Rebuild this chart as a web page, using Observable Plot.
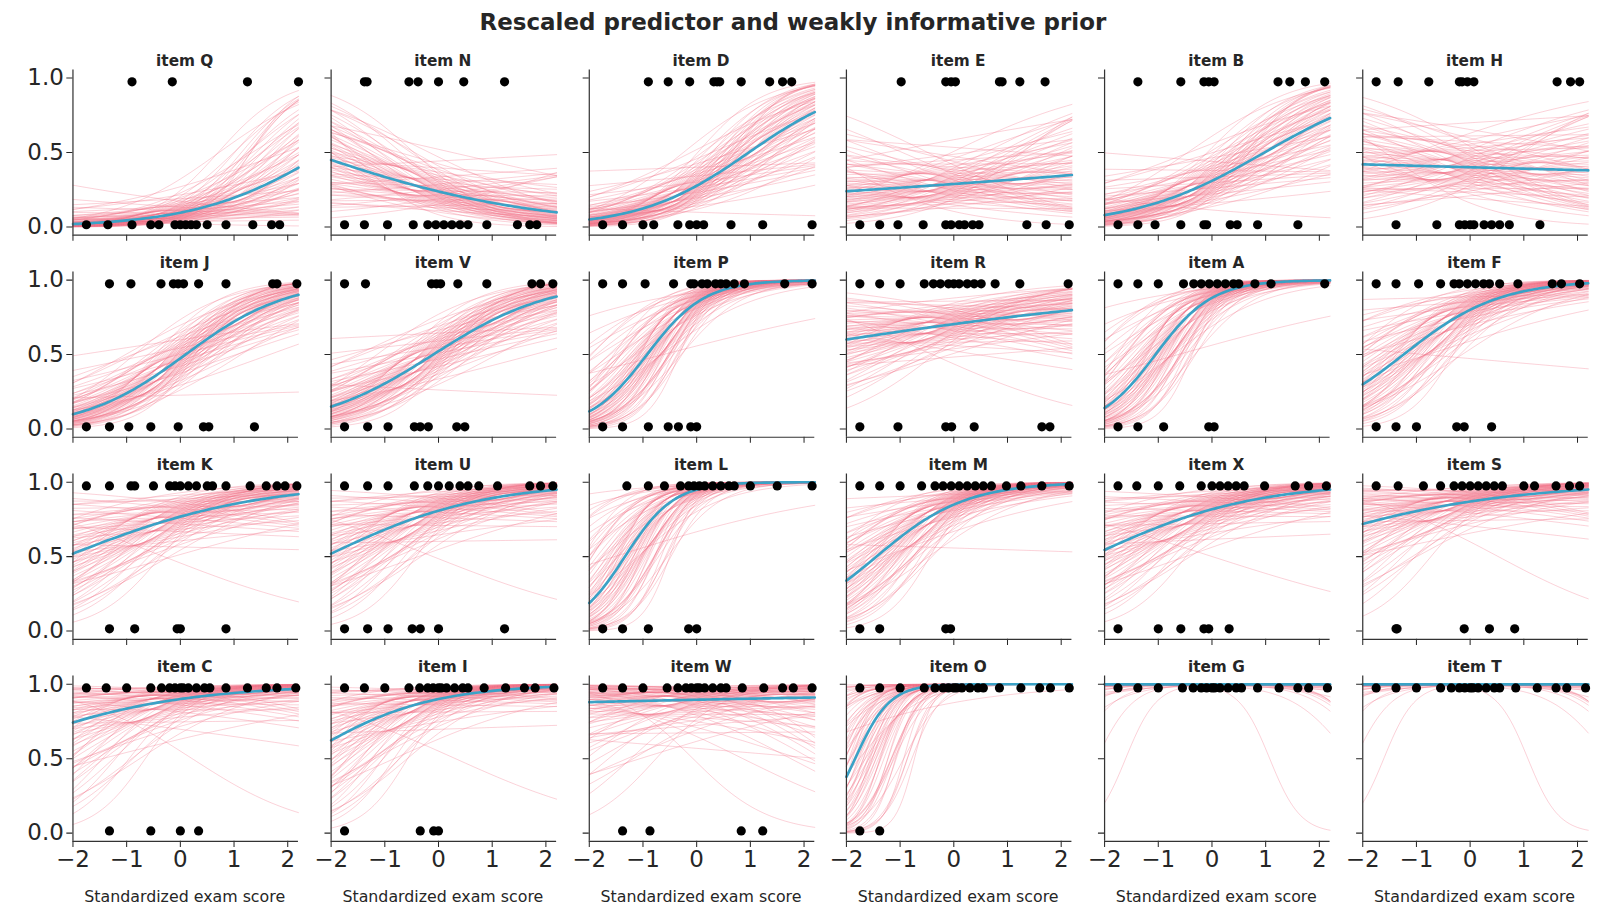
<!DOCTYPE html>
<html><head><meta charset="utf-8">
<script src="https://cdn.jsdelivr.net/npm/d3@7"></script>
<script src="https://cdn.jsdelivr.net/npm/@observablehq/plot@0.6"></script>
<style>
html,body{margin:0;background:#fff;font-family:"DejaVu Sans",sans-serif;overflow:hidden;width:1600px;height:921px;}
#outer{width:1600px;height:921px;overflow:hidden;position:relative;}
#wrap{position:absolute;left:0;top:0;width:1568px;height:902px;transform:scale(1.0204);transform-origin:0 0;}
.t{position:absolute;font-weight:bold;color:#262626;white-space:nowrap;text-align:center;width:240px;}
.xl{position:absolute;font-size:15.5px;color:#262626;white-space:nowrap;text-align:center;width:240px;}
.p{position:absolute;}
</style></head><body>
<div id="outer"><div id="wrap"></div></div>
<script>
const items = ["Q","N","D","E","B","H","J","V","P","R","A","F","K","U","L","M","X","S","C","I","W","O","G","T"];
// mean logistic curve: intercept (logit at x=0) and slope
const intercepts = [-2.24,-1.16,-0.96,-0.9,-0.8,-0.4,-0.1,0.09,1.73,0.87,2.0,1.39,1.2,1.44,2.94,1.73,1.5,1.9,2.2,2.2,2.15,5.7,7,7];
const slopes = [0.83,-0.48,0.99,0.126,0.82,-0.04,1.05,0.91,1.87,0.23,1.9,1.12,0.56,0.68,2.2,1.2,0.66,0.48,0.57,0.85,0.08,3.1,0,0];
// posterior spread (sd of intercept, sd of slope)
const sdIntercept = [0.6,0.5,0.5,0.5,0.5,0.5,0.45,0.45,0.6,0.45,0.7,0.6,0.55,0.6,0.9,0.6,0.6,0.6,0.8,0.8,0.9,1.5,1.3,1.3];
const sdSlope = [0.55,0.4,0.45,0.4,0.45,0.4,0.4,0.4,0.6,0.35,0.6,0.5,0.45,0.5,0.7,0.5,0.45,0.5,0.6,0.6,0.6,1.0,1.4,1.4];
const DENSE = [-1.75,-1.38,-1,-0.55,-0.35,-0.2,-0.1,0,0.05,0.15,0.3,0.45,0.55,0.85,1.25,1.6,1.8,2.15];
const ones = [
 [-0.9,-0.15,1.25,2.2],
 [-1.38,-1.33,-0.55,-0.38,0.0,0.47,1.23],
 [-0.9,-0.53,-0.13,0.32,0.38,0.43,0.83,1.36,1.6,1.77],
 [-0.98,-0.15,-0.05,0.03,0.85,0.9,1.23,1.7],
 [-1.38,-0.58,-0.15,-0.06,0.04,1.23,1.45,1.74,2.1],
 [-1.75,-1.34,-0.77,-0.2,-0.15,-0.05,0.07,1.62,1.87,2.04],
 [-1.32,-0.92,-0.36,-0.13,-0.04,0.06,0.34,0.85,1.72,1.8,2.17],
 [-1.75,-1.36,-0.13,-0.04,0.04,0.36,0.9,1.74,1.9,2.13],
 [-1.75,-1.38,-0.96,-0.43,-0.11,-0.05,0.1,0.2,0.35,0.45,0.55,0.7,0.89,1.64,2.15],
 [-1.75,-1.38,-1,-0.55,-0.38,-0.25,-0.1,0,0.1,0.25,0.38,0.51,0.77,1.23,2.13],
 [-1.75,-1.38,-1,-0.53,-0.34,-0.2,-0.05,0.1,0.25,0.4,0.5,0.8,1.1,2.1],
 [-1.75,-1.38,-0.96,-0.55,-0.3,-0.2,-0.05,0.1,0.25,0.36,0.55,0.89,1.53,1.7,2.04],
 [-1.75,-1.32,-0.92,-0.85,-0.5,-0.2,-0.1,0,0.15,0.3,0.5,0.6,0.85,1.3,1.6,1.8,1.95,2.17],
 [-1.75,-1.32,-0.94,-0.45,-0.2,0,0.2,0.4,0.55,0.75,1.1,1.7,1.9,2.13],
 [-1.3,-0.9,-0.6,-0.3,-0.15,-0.05,0.05,0.15,0.3,0.45,0.6,0.7,1.0,1.5,2.15],
 [-1.75,-1.38,-1,-0.6,-0.35,-0.2,-0.05,0.1,0.25,0.4,0.55,0.7,0.98,1.25,1.64,2.15],
 [-1.75,-1.4,-1,-0.6,-0.2,0,0.15,0.3,0.45,0.6,0.98,1.55,1.8,2.13],
 [-1.75,-1.34,-0.87,-0.55,-0.3,-0.15,0,0.15,0.3,0.45,0.6,1.0,1.2,1.6,1.85,2.04],
 DENSE, DENSE, DENSE, DENSE, DENSE, DENSE
];
const zeros = [
 [-1.75,-1.35,-0.9,-0.55,-0.4,-0.1,0,0.1,0.2,0.3,0.5,0.85,1.35,1.7,1.85],
 [-1.75,-1.38,-0.95,-0.47,-0.2,-0.05,0.1,0.25,0.4,0.55,0.9,1.47,1.7,1.83],
 [-1.75,-1.38,-1,-0.8,-0.35,-0.13,0,0.13,0.64,1.23,2.15],
 [-1.75,-1.38,-1.04,-0.57,-0.15,-0.05,0.1,0.2,0.35,0.47,1.36,1.72,2.15],
 [-1.75,-1.38,-1.06,-0.58,-0.15,-0.1,0.34,0.47,0.85,1.6],
 [-1.38,-0.62,-0.2,-0.1,0,0.07,0.26,0.4,0.55,0.73,1.3],
 [-1.75,-1.32,-0.96,-0.55,-0.04,0.43,0.53,1.38],
 [-1.75,-1.32,-0.94,-0.45,-0.34,-0.19,0.34,0.49],
 [-1.75,-1.38,-0.9,-0.53,-0.34,-0.11,0],
 [-1.75,-1.04,-0.15,-0.04,0.38,1.64,1.79],
 [-1.75,-1.38,-0.9,-0.06,0.04],
 [-1.75,-1.38,-1,-0.25,-0.11,0.4],
 [-1.32,-0.85,-0.06,0,0.85],
 [-1.75,-1.32,-0.94,-0.49,-0.34,0,1.23],
 [-1.75,-1.38,-0.9,-0.15,0],
 [-1.75,-1.38,-0.15,-0.06],
 [-1.75,-1,-0.58,-0.15,-0.06,0.32],
 [-1.38,-1.36,-0.11,0.36,0.83],
 [-1.32,-0.55,0,0.34],
 [-1.75,-0.34,-0.09,0],
 [-1.38,-0.87,0.83,1.23],
 [-1.75,-1.38],
 [], []
];
const xTicks = [-2,-1,0,1,2];
const yTicks = [0,0.5,1];
const colStarts = [71,324,577,829,1082,1335];
const rowTops = [68,266,464,662];

// deterministic normal quantiles for posterior draws
function erfinv(x){const a=0.147,l=Math.log(1-x*x),t=2/(Math.PI*a)+l/2;return Math.sign(x)*Math.sqrt(Math.sqrt(t*t-l/a)-t);}
const probit = p => Math.SQRT2*erfinv(2*p-1);
const N = 80;
const draws = d3.range(N).map(i=>[probit((i+0.5)/N), probit(((i*29)%N+0.5)/N)]);
const xs = d3.range(-2,2.201,0.05);
const sig = v => 1/(1+Math.exp(-v));
const fmtX = d => (d<0?"\u2212":"")+Math.abs(d);

const wrap = document.getElementById("wrap");
const title = document.createElement("div");
title.className="t"; title.style.left="470px"; title.style.width="600px"; title.style.top="8px"; title.style.fontSize="22.5px";
title.textContent="Rescaled predictor and weakly informative prior";
wrap.appendChild(title);

items.forEach((it,k)=>{
  const c=k%6, r=Math.floor(k/6);
  const a=intercepts[k], b=slopes[k];
  const lines=[];
  draws.forEach(([z1,z2],d)=>{
    const ai=a+sdIntercept[k]*z1, bi=b+sdSlope[k]*z2;
    xs.forEach(x=>lines.push({d,x,y:sig(ai+bi*x)}));
  });
  const mean = xs.map(x=>({x,y:sig(a+b*x)}));
  const pts = ones[k].map(x=>({x,y:0.975})).concat(zeros[k].map(x=>({x,y:0.015})));
  const ml=65, mt=22, mr=c===5?8:25;
  const plot = Plot.plot({
    width: ml+221+mr, height: mt+162+36,
    marginLeft: ml, marginRight:mr, marginTop:mt, marginBottom:36,
    style:{fontFamily:"DejaVu Sans", fontSize:"22.5px", color:"#262626", background:"transparent"},
    x:{domain:[-2,2.2]}, y:{domain:[-0.055,1.055]},
    marks:[
      Plot.line(lines,{x:"x",y:"y",z:"d",stroke:"#f4728a",strokeOpacity:0.4,strokeWidth:0.8}),
      Plot.line(mean,{x:"x",y:"y",stroke:"#3aa2c6",strokeWidth:2.6}),
      Plot.dot(pts,{x:"x",y:"y",r:4.5,fill:"black"}),
      Plot.axisX({ticks:xTicks,tickSize:6,tickPadding:3,label:null,tickFormat: r===3?fmtX:()=>""}),
      Plot.axisY({ticks:yTicks,tickSize:6,tickPadding:3,label:null,tickFormat: c===0?(d=>d.toFixed(1)):()=>""}),
      Plot.ruleX([-2],{stroke:"#333",strokeWidth:1.2}),
      Plot.ruleY([-0.055],{stroke:"#333",strokeWidth:1.2})
    ]
  });
  plot.classList.add("p");
  plot.style.left=(colStarts[c]-ml)+"px"; plot.style.top=(rowTops[r]-mt)+"px";
  wrap.appendChild(plot);
  const t=document.createElement("div");
  t.className="t"; t.style.fontSize="15px";
  t.style.left=(colStarts[c]+110-120)+"px"; t.style.top=(rowTops[r]-17)+"px";
  t.textContent="item "+it;
  wrap.appendChild(t);
  if(r===3){
    const xl=document.createElement("div");
    xl.className="xl"; xl.style.left=(colStarts[c]+110-120)+"px"; xl.style.top="870px";
    xl.textContent="Standardized exam score";
    wrap.appendChild(xl);
  }
});
</script></body></html>
